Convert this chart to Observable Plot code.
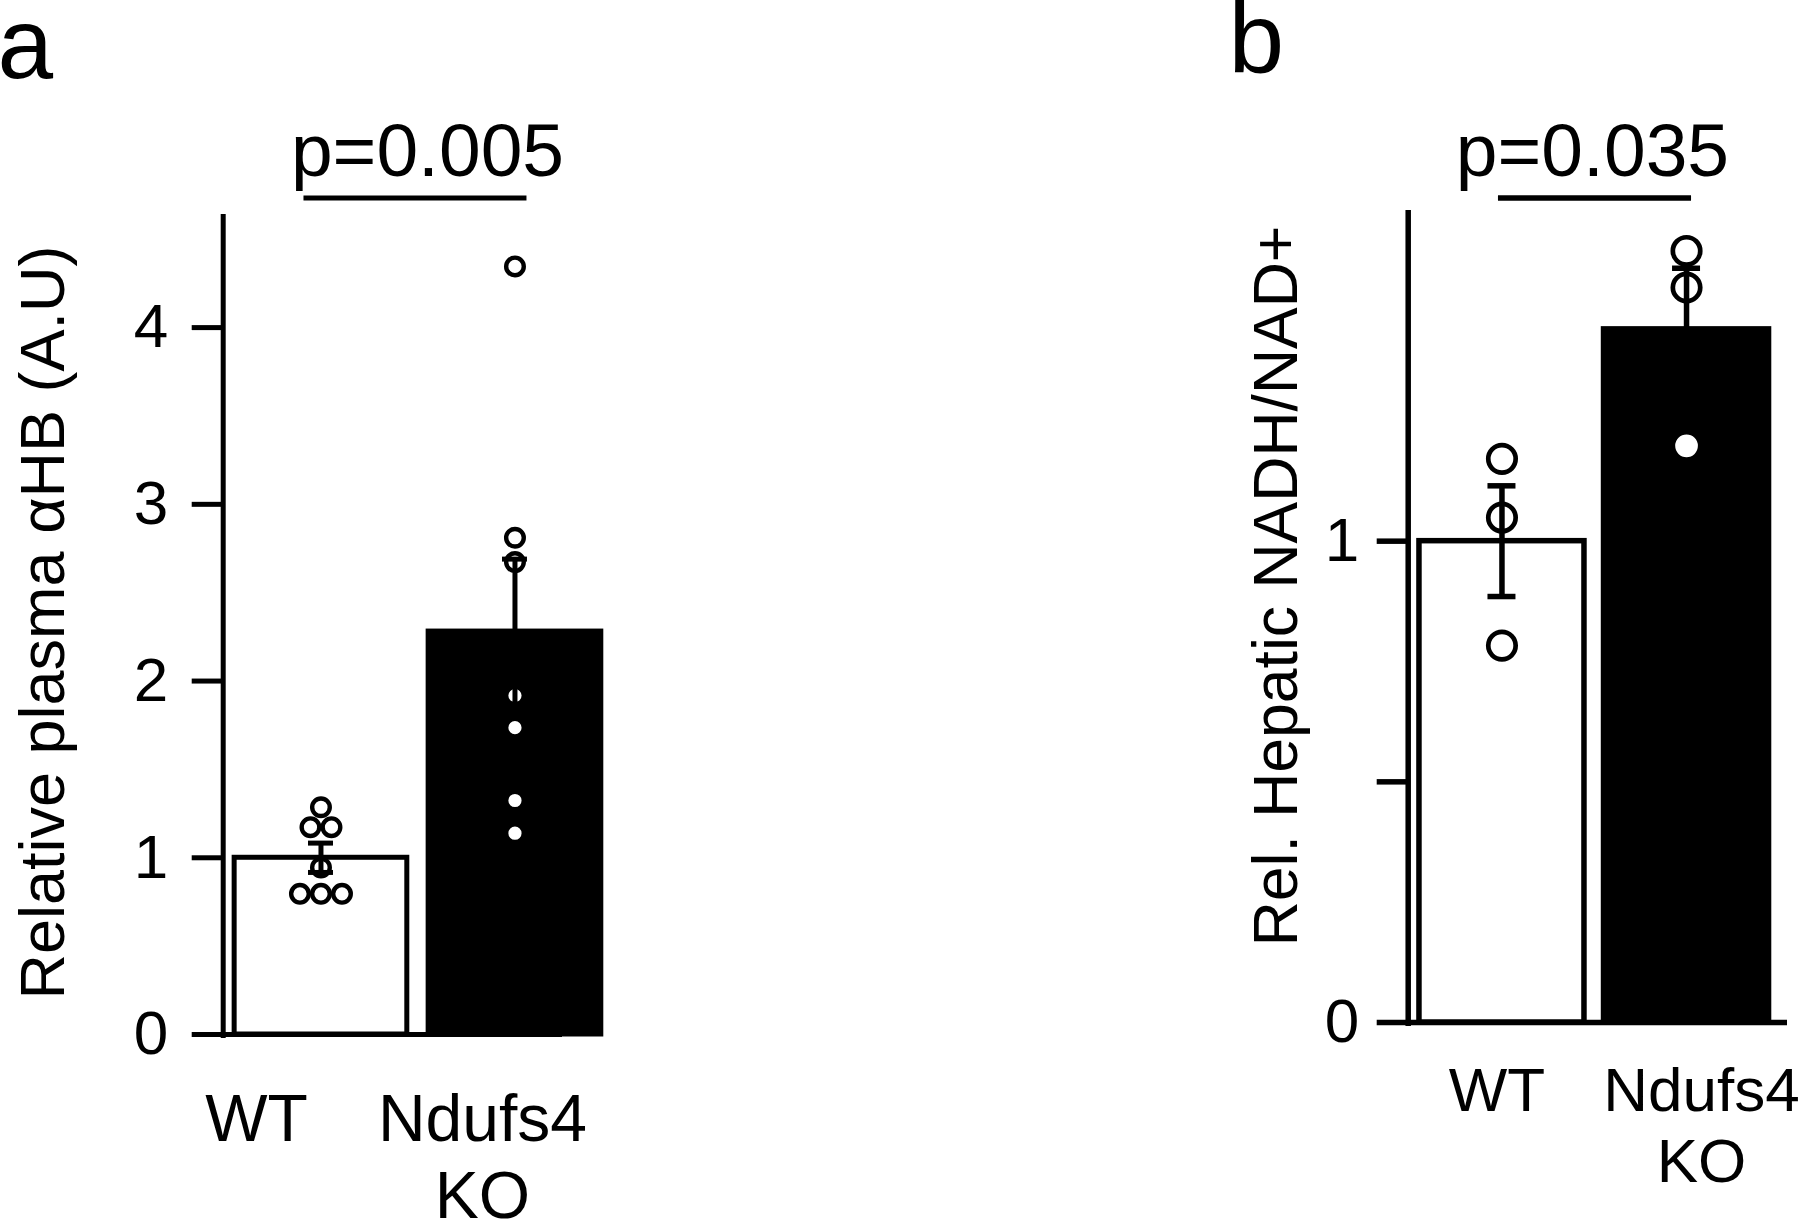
<!DOCTYPE html>
<html>
<head>
<meta charset="utf-8">
<script src="https://cdn.jsdelivr.net/npm/d3@7"></script>
<script src="https://cdn.jsdelivr.net/npm/@observablehq/plot@0.6"></script>
<style>
  html, body { margin: 0; padding: 0; background: white; }
  #root { position: relative; width: 1800px; height: 1226px; overflow: hidden; background: white; }
  #root svg { position: absolute; top: 0; }
</style>
</head>
<body>
<div id="root"></div>
<script>
// ---------- data ----------
const groups = ["WT", "Ndufs4\nKO"];

// panel a : relative plasma αHB
const aMeans = [1.0, 2.28];
const aSems = [0.083, 0.41];
const aWT = [1.286, 1.173, 1.173, 0.945, 0.796, 0.796, 0.796];
const aKO = [4.346, 2.811, 2.673, 1.918, 1.736, 1.324, 1.139];
const aTicks = [0, 1, 2, 3, 4];
const aTitle = "Relative plasma αHB (A.U)";
const aP = "p=0.005";

// panel b : relative hepatic NADH/NAD+
const bMeans = [1.0, 1.44];
const bSems = [0.115, 0.127];
const bWT = [1.171, 1.049, 0.783];
const bKO = [1.603, 1.527, 1.198];
const bTicks = [0, 0.5, 1];
const bTickLabels = ["0", "", "1"];
const bTitle = "Rel. Hepatic NADH/NAD+";
const bP = "p=0.035";

const panelLetters = ["a", "b"];

// ---------- helpers ----------
function dodgeOffsets(vals, tol) {
  const out = vals.map(() => 0);
  const used = new Set();
  vals.forEach((v, i) => {
    if (used.has(i)) return;
    const cluster = vals.map((w, j) => j).filter(j => !used.has(j) && Math.abs(vals[j] - v) < tol);
    cluster.forEach((j, k) => { used.add(j); out[j] = k - (cluster.length - 1) / 2; });
  });
  return out;
}

const FONT = "'Liberation Sans', Arial, Helvetica, sans-serif";

function makePanel(c) {
  const bars = groups.map((g, i) => ({g, i, mean: c.means[i], sem: c.sems[i]}));
  const innerW = c.width - c.ml - c.mr;
  const pxPerUnit = innerW / (c.xDomain[1] - c.xDomain[0]);
  const pts = c.points.flatMap((vals, i) => {
    const off = dodgeOffsets(vals, 0.005);
    return vals.map((v, k) => ({i, v, x: i + off[k] * c.spacing / pxPerUnit}));
  });
  const yMax = c.yMax;
  const mid = (0 + (groups.length - 1)) / 2;

  const marks = [
    // x baseline
    Plot.ruleY([0], {stroke: "black", strokeWidth: c.lw}),
    // y axis line
    Plot.ruleX([c.xDomain[0]], {stroke: "black", strokeWidth: c.lw, insetBottom: -4}),
    Plot.axisY({
      ticks: c.ticks, tickFormat: c.tickFormat, tickSize: 31, tickPadding: c.tickPad,
      strokeWidth: c.lw, fontSize: c.tickFont, label: null, stroke: "black", fill: "black"
    }),
    // bars
    Plot.rect(bars, {
      x1: d => d.i - c.hw, x2: d => d.i + c.hw, y1: 0, y2: "mean",
      fill: d => d.i === 0 ? "white" : "black", stroke: "black", strokeWidth: c.lw
    }),
    // individual points
    Plot.dot(pts, {x: "x", y: "v", r: c.r, fill: "white", stroke: "black", strokeWidth: c.sw}),
    // error bars
    Plot.ruleX(bars, {x: "i", y1: d => d.mean - d.sem, y2: d => d.mean + d.sem, stroke: "black", strokeWidth: c.lw}),
    Plot.ruleY(bars, {y: d => d.mean + d.sem, x1: "i", x2: "i", insetLeft: -c.cap, insetRight: -c.cap, stroke: "black", strokeWidth: c.lw}),
    Plot.ruleY(bars, {y: d => d.mean - d.sem, x1: "i", x2: "i", insetLeft: -c.cap, insetRight: -c.cap, stroke: "black", strokeWidth: c.lw}),
    // significance bracket + p value
    Plot.ruleY([yMax], {x1: 0, x2: groups.length - 1, dy: c.bracketDy, insetLeft: c.bracketInL, insetRight: c.bracketInR, stroke: "black", strokeWidth: c.lw}),
    Plot.text([c.p], {x: mid, y: yMax, text: d => d, dx: c.pDx, dy: c.pDy, fontSize: 75, textAnchor: "middle", lineAnchor: "bottom", fill: "black"}),
    // y title
    Plot.text([c.title], {text: d => d, frameAnchor: "left", rotate: -90, dx: c.titleDx, dy: c.titleDy, fontSize: c.titleFont, textAnchor: "middle", lineAnchor: "middle", fill: "black"}),
    // panel letter
    Plot.text([c.letter], {text: d => d, frameAnchor: "top-left", dx: c.letterDx, dy: c.letterDy, fontSize: 100, textAnchor: "start", lineAnchor: "bottom", fill: "black"})
  ];
  // category labels
  groups.forEach((g, i) => {
    marks.push(Plot.text([g], {
      x: i, text: d => d, frameAnchor: "bottom", dx: c.labelDx[i], dy: c.labelDy,
      fontSize: c.labelFont, textAnchor: "middle", lineAnchor: "top", lineHeight: c.lineHeight, fill: "black"
    }));
  });

  const svg = Plot.plot({
    width: c.width, height: 1226,
    marginLeft: c.ml, marginRight: c.mr, marginTop: c.mt, marginBottom: c.mb,
    x: {domain: c.xDomain, axis: null},
    y: {domain: [0, yMax]},
    color: {type: "identity"},
    style: {fontFamily: FONT, background: "transparent", color: "black", overflow: "visible"},
    marks
  });
  svg.style.left = c.left + "px";
  return svg;
}

const root = document.getElementById("root");

root.appendChild(makePanel({
  left: 0, width: 900, ml: 222.7, mr: 338, mt: 214, mb: 192,
  xDomain: [-0.504, 1.245], yMax: 4.64,
  means: aMeans, sems: aSems, points: [aWT, aKO],
  ticks: aTicks, tickFormat: d => String(d), tickPad: 24, tickFont: 62,
  lw: 5, hw: 0.445, r: 8.8, sw: 4.4, cap: 12.5, spacing: 21,
  bracketDy: -16.5, bracketInL: -17, bracketInR: -12,
  p: aP, pDx: 9.5, pDy: -39,
  title: aTitle, titleDx: -179.7, titleDy: -2, titleFont: 63,
  letter: panelLetters[0], letterDx: -225.7, letterDy: -137,
  labelDx: [-64.5, -32.5], labelDy: 52, labelFont: 66, lineHeight: 1.167
}));

root.appendChild(makePanel({
  left: 900, width: 900, ml: 507.7, mr: 13, mt: 210, mb: 204,
  xDomain: [-0.508, 1.547], yMax: 1.687,
  means: bMeans, sems: bSems, points: [bWT, bKO],
  ticks: bTicks, tickFormat: d => bTickLabels[bTicks.indexOf(d)], tickPad: 18, tickFont: 62,
  lw: 5.5, hw: 0.447, r: 13.7, sw: 4.7, cap: 14, spacing: 30,
  bracketDy: -12.5, bracketInL: -3.5, bracketInR: -5,
  p: bP, pDx: -1.8, pDy: -35,
  title: bTitle, titleDx: -131.7, titleDy: -30.5, titleFont: 62.5,
  letter: panelLetters[1], letterDx: -179.7, letterDy: -137.3,
  labelDx: [-5, 15], labelDy: 38, labelFont: 62, lineHeight: 1.15
}));
</script>
</body>
</html>
